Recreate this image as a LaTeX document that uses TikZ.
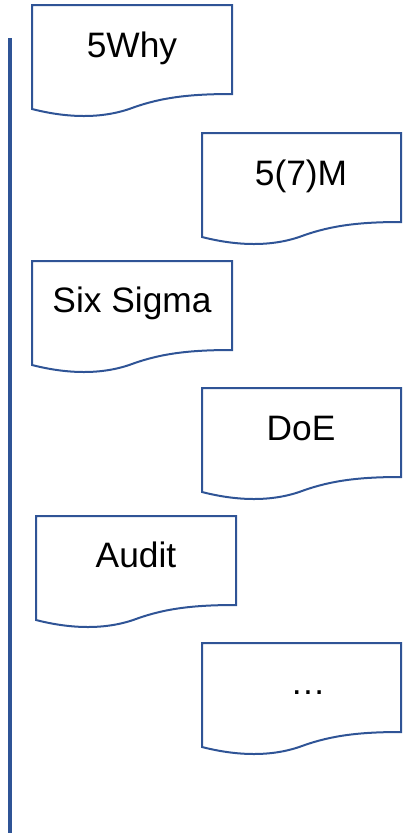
\documentclass[tikz,border=0pt]{standalone}
\usepackage{fontspec}
\setmainfont{Liberation Sans}
\definecolor{docblue}{RGB}{47,84,150}
\tikzset{
    docline/.style={draw=docblue, line width=1.5pt, line join=miter},
    doclabel/.style={anchor=base, inner sep=0pt, font=\fontsize{26.5}{32}\selectfont}
}

\begin{document}
\begin{tikzpicture}[x=0.75pt, y=-0.75pt]
    \useasboundingbox (0,0) rectangle (413,833);

    % time line on the left
    \draw[docblue, line width=2.8pt] (10,38) -- (10,833);

    % 5Why
    \draw[docline, shift={(32,5)}] (0,104) -- (0,0) -- (200,0) -- (200,89)
        .. controls (160,89) and (130,92) .. (100,103)
        .. controls (70,114) and (35,113) .. cycle;
    \node[doclabel] (why) at (132,57) {5Why};

    % 5(7)M
    \draw[docline, shift={(202,133)}] (0,104) -- (0,0) -- (199,0) -- (199,89)
        .. controls (160,89) and (130,92) .. (100,103)
        .. controls (70,114) and (35,113) .. cycle;
    \node[doclabel] (sevenm) at (301,185) {5(7)M};

    % Six Sigma
    \draw[docline, shift={(32,261)}] (0,104) -- (0,0) -- (200,0) -- (200,89)
        .. controls (160,89) and (130,92) .. (100,103)
        .. controls (70,114) and (35,113) .. cycle;
    \node[doclabel] (sigma) at (132,312) {Six Sigma};

    % DoE
    \draw[docline, shift={(202,388)}] (0,104) -- (0,0) -- (199,0) -- (199,89)
        .. controls (160,89) and (130,92) .. (100,103)
        .. controls (70,114) and (35,113) .. cycle;
    \node[doclabel] (doe) at (301,440) {DoE};

    % Audit
    \draw[docline, shift={(36,516)}] (0,104) -- (0,0) -- (200,0) -- (200,89)
        .. controls (160,89) and (130,92) .. (100,103)
        .. controls (70,114) and (35,113) .. cycle;
    \node[doclabel] (audit) at (136,567) {Audit};

    % ...
    \draw[docline, shift={(202,643)}] (0,104) -- (0,0) -- (199,0) -- (199,89)
        .. controls (160,89) and (130,92) .. (100,103)
        .. controls (70,114) and (35,113) .. cycle;
    \node[doclabel] (more) at (308,694) {\dots};
\end{tikzpicture}
\end{document}
